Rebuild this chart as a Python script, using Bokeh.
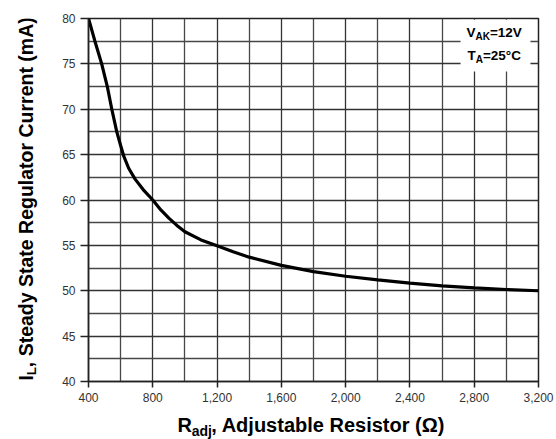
import math
from bokeh.plotting import figure
from bokeh.layouts import column, row
from bokeh.models import Label, BoxAnnotation, FixedTicker, NumeralTickFormatter, Range1d
from bokeh.embed import file_html
from bokeh.resources import INLINE

# Data
r_adj = [400, 440, 482, 517, 545, 576, 600, 620, 650, 690, 740, 800, 850, 900, 950, 1000,
         1100, 1200, 1300, 1400, 1600, 1800, 2000, 2200, 2400, 2600, 2800, 3000, 3200]
i_l = [80.0, 77.5, 75.0, 72.5, 70.0, 67.5, 66.0, 64.8, 63.5, 62.3, 61.15, 60.0, 58.9, 58.0,
       57.2, 56.5, 55.6, 54.95, 54.3, 53.7, 52.8, 52.1, 51.6, 51.2, 50.84, 50.54, 50.32,
       50.14, 50.0]

x_major = [400, 800, 1200, 1600, 2000, 2400, 2800, 3200]
x_minor = [600, 1000, 1400, 1800, 2200, 2600, 3000]
y_major = [40, 45, 50, 55, 60, 65, 70, 75, 80]
y_minor = [42.5, 47.5, 52.5, 57.5, 62.5, 67.5, 72.5, 77.5]
X_RANGE = (400, 3200)
Y_RANGE = (40, 80)

FONT = "Liberation Sans"
DARK = "#222222"

TOTAL_W = 556
TOTAL_H = 439
YW = 38                 # width of the y-title strip
MAIN_H = 409
XH = TOTAL_H - MAIN_H   # height of the x-title strip
B_LEFT, B_RIGHT, B_TOP, B_BOTTOM = 50, 18, 18, 28

p = figure(width=TOTAL_W - YW, height=MAIN_H, output_backend="svg", toolbar_location=None,
           x_range=Range1d(*X_RANGE), y_range=Range1d(*Y_RANGE), title=None,
           min_border_left=B_LEFT, min_border_right=B_RIGHT,
           min_border_top=B_TOP, min_border_bottom=B_BOTTOM)
p.background_fill_color = "white"
p.border_fill_color = "white"
p.outline_line_color = DARK
p.outline_line_width = 1.5

p.xaxis.ticker = FixedTicker(ticks=x_major, minor_ticks=x_minor)
p.yaxis.ticker = FixedTicker(ticks=y_major, minor_ticks=y_minor)
p.xaxis.formatter = NumeralTickFormatter(format="0,0")

for ax in (p.xaxis, p.yaxis):
    ax.axis_line_color = DARK
    ax.axis_line_width = 1.5
    ax.major_tick_line_color = DARK
    ax.major_tick_line_width = 1.5
    ax.major_tick_in = 0
    ax.minor_tick_line_color = None
    ax.major_label_text_font = FONT
    ax.major_label_text_font_size = "12px"
    ax.major_label_text_color = "#333333"
p.xaxis.major_tick_out = 6
p.xaxis.major_label_standoff = 5
p.yaxis.major_tick_out = 8
p.yaxis.major_label_standoff = 5

for g in (p.xgrid, p.ygrid):
    g.grid_line_color = "#333333"
    g.grid_line_width = 1.3
    g.grid_line_alpha = 1.0
    g.minor_grid_line_color = "#474747"
    g.minor_grid_line_width = 1.3

p.line(r_adj, i_l, line_color="black", line_width=3.2)

# White box behind the conditions note
p.add_layout(BoxAnnotation(left=2715, right=3150, top=79.85, bottom=74.16,
                           fill_color="white", fill_alpha=1.0, line_color=None))


def lbl(fig, x, y, text, size, xo=0, yo=0, angle=0.0):
    fig.add_layout(Label(x=x, y=y, text=text, x_offset=xo, y_offset=yo, angle=angle,
                         text_font=FONT, text_font_size=size, text_font_style="bold",
                         text_color="black", text_align="left", text_baseline="alphabetic"))


# Conditions note
lbl(p, 2752, 78.46, "V", "13.5px")
lbl(p, 2752, 78.46, "AK", "10px", xo=9.0, yo=-4.3)
lbl(p, 2752, 78.46, "=12V", "13.5px", xo=23.4)
lbl(p, 2758, 75.92, "T", "13.5px")
lbl(p, 2758, 75.92, "A", "10px", xo=8.25, yo=-4.3)
lbl(p, 2758, 75.92, "=25\u00b0C", "13.5px", xo=15.45)


def strip(w, h, xr, yr, left, right, top, bottom):
    f = figure(width=w, height=h, output_backend="svg", toolbar_location=None,
               x_range=Range1d(*xr), y_range=Range1d(*yr), title=None,
               x_axis_location=None, y_axis_location=None,
               min_border_left=left, min_border_right=right,
               min_border_top=top, min_border_bottom=bottom)
    f.grid.visible = False
    f.outline_line_color = None
    f.background_fill_color = "white"
    f.border_fill_color = "white"
    return f


# Y axis title (rotated) with subscript; strip frame matches the main frame vertically
yt = strip(YW, MAIN_H, (0, YW), Y_RANGE, 0, 0, B_TOP, B_BOTTOM)
A = math.pi / 2
lbl(yt, 25.3, 40.11, "I", "19.5px", angle=A)
lbl(yt, 25.3, 40.11, "L", "13.5px", angle=A, xo=5.7, yo=5.3)
lbl(yt, 25.3, 40.11, ", Steady State Regulator Current  (mA)", "19.5px", angle=A, yo=13.3)

# X axis title with subscript; strip frame matches the main frame horizontally
xt = strip(TOTAL_W, XH, X_RANGE, (0, XH), YW + B_LEFT, B_RIGHT, 0, 0)
lbl(xt, 953.8, 14.4, "R", "20px")
lbl(xt, 953.8, 14.4, "adj", "14px", xo=14.2, yo=-5.7)
lbl(xt, 953.8, 14.4, ", Adjustable Resistor  (\u03a9)", "20px", xo=33.8)

layout = column(row(yt, p, spacing=0), xt, spacing=0)

open("out.html", "w").write(file_html(layout, INLINE))
